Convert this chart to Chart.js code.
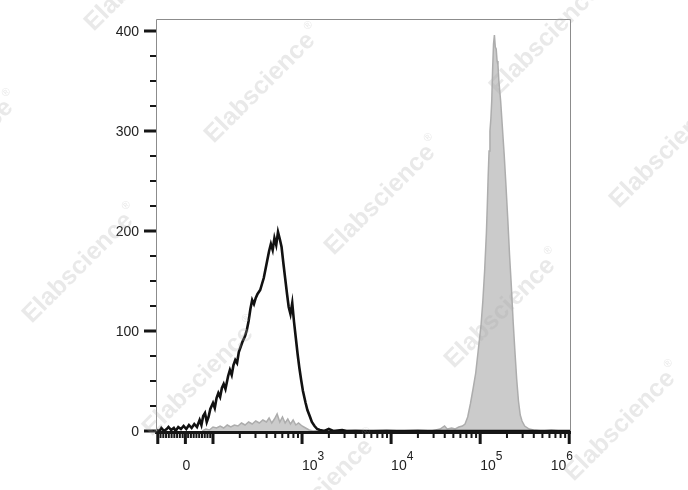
<!DOCTYPE html>
<html>
<head>
<meta charset="utf-8">
<script src="https://cdn.jsdelivr.net/npm/chart.js@4"></script>
<style>
  html, body { margin: 0; padding: 0; background: #fff; }
  #wrap { width: 688px; height: 490px; }
</style>
</head>
<body>
<div id="wrap"><canvas id="histo" width="688" height="490"></canvas></div>
<script>
// x positions are in display units (decades on the biexponential axis)
const isotypePos = [1.37, 1.40, 1.42, 1.45, 1.48, 1.50, 1.53, 1.56, 1.58, 1.61, 1.64, 1.67, 1.70, 1.73, 1.76, 1.79,
  1.82, 1.85, 1.87, 1.89, 1.91, 1.93, 1.95, 1.97, 2.00, 2.02, 2.04, 2.06, 2.08, 2.10, 2.12, 2.14, 2.17, 2.19, 2.21,
  2.23, 2.25, 2.27, 2.29, 2.31, 2.33, 2.36, 2.38, 2.40, 2.42, 2.44, 2.46, 2.48, 2.50, 2.53, 2.55, 2.57, 2.59, 2.61,
  2.63, 2.65, 2.67, 2.69, 2.71, 2.73, 2.75, 2.77, 2.79, 2.81, 2.83, 2.85, 2.87, 2.89, 2.91, 2.93, 2.95, 2.97, 2.99,
  3.01, 3.04, 3.06, 3.09, 3.11, 3.14, 3.17, 3.20, 3.25, 3.30, 3.35, 3.45, 3.50, 6.02];
const isotypeCounts = [1, 0, 3, 0, 2, 4, 1, 3, 0, 4, 2, 5, 2, 6, 3, 7,
  4, 11, 6, 15, 18, 9, 14, 22, 28, 23, 33, 38, 34, 43, 47, 42, 55, 61, 56,
  66, 71, 68, 79, 84, 89, 95, 101, 110, 122, 131, 127, 133, 137, 141, 147, 153, 162, 171,
  180, 187, 181, 193, 186, 199, 192, 184, 168, 153, 138, 124, 117, 128, 109, 93, 77, 63, 51,
  40, 28, 21, 14, 9, 5, 2, 1, 0, 2, 0, 1, 0, 0];

const stainedPos = [1.88, 1.92, 1.96, 2.00, 2.04, 2.08, 2.12, 2.16, 2.20, 2.24, 2.28, 2.32, 2.36, 2.40, 2.44, 2.48,
  2.52, 2.56, 2.60, 2.63, 2.66, 2.69, 2.72, 2.75, 2.78, 2.81, 2.84, 2.87, 2.90, 2.93, 2.96, 3.00, 3.04, 3.08, 3.12,
  3.30, 3.40, 3.60, 3.75, 3.95, 4.10, 4.30, 4.45, 4.55, 4.60, 4.63, 4.68, 4.72, 4.76, 4.80, 4.83, 4.86, 4.89, 4.92,
  4.95, 4.97, 4.99, 5.01, 5.03, 5.05, 5.07, 5.08, 5.09, 5.10, 5.11, 5.12, 5.13, 5.14, 5.15, 5.16, 5.17, 5.18, 5.19,
  5.20, 5.21, 5.23, 5.25, 5.27, 5.29, 5.31, 5.33, 5.35, 5.37, 5.39, 5.41, 5.43, 5.45, 5.47, 5.50, 5.55, 5.60, 5.70,
  5.80, 5.90, 6.02];
const stainedCounts = [0, 2, 1, 4, 3, 5, 3, 6, 4, 6, 5, 8, 6, 9, 7, 10,
  8, 11, 9, 13, 8, 12, 17, 9, 14, 8, 12, 7, 11, 6, 8, 5, 3, 1, 0,
  1, 0, 1, 0, 1, 0, 1, 0, 2, 5, 2, 3, 2, 4, 5, 7, 14, 27, 42,
  58, 74, 90, 106, 130, 160, 198, 225, 255, 280, 300, 312, 330, 362, 387, 396, 384, 382, 370,
  366, 350, 330, 303, 276, 245, 212, 176, 145, 110, 80, 52, 30, 16, 10, 5, 2, 1, 0,
  1, 0, 0];

const yTickValues = [0, 100, 200, 300, 400];
const xMajorValues = [-100, 0, 100, 1e3, 1e4, 1e5, 1e6];
const xLabelBase = ['', '0', '', '10', '10', '10', '10'];
const xLabelSup = ['', '', '', '3', '4', '5', '6'];
const xMinorValues = [-90, -80, -70, -60, -50, -40, -30, -20, -10, 10, 20, 30, 40, 50, 60, 70, 80, 90,
  200, 300, 400, 500, 600, 700, 800, 900, 2e3, 3e3, 4e3, 5e3, 6e3, 7e3, 8e3, 9e3,
  2e4, 3e4, 4e4, 5e4, 6e4, 7e4, 8e4, 9e4, 2e5, 3e5, 4e5, 5e5, 6e5, 7e5, 8e5, 9e5];

// biexponential-like display transform: linear around zero, log10 above 100
const ZERO_POS = 1.69;
function toDisplay(v) {
  if (v >= 100) return Math.log10(v);
  return ZERO_POS + v * (2 - ZERO_POS) / 100;
}

function toPoints(xs, ys) {
  return xs.map((x, i) => ({ x: x, y: ys[i] }));
}

const FONT = '"Liberation Sans", Arial, sans-serif';

const axesPlugin = {
  id: 'flowAxes',
  afterDraw(chart) {
    const ctx = chart.ctx;
    const xs = chart.scales.x;
    const ys = chart.scales.y;
    const a = chart.chartArea;
    ctx.save();

    // thin frame
    ctx.strokeStyle = '#8c8c8c';
    ctx.lineWidth = 1;
    ctx.beginPath();
    ctx.moveTo(a.left + 0.5, a.bottom);
    ctx.lineTo(a.left + 0.5, a.top + 0.5);
    ctx.lineTo(a.right - 0.5, a.top + 0.5);
    ctx.lineTo(a.right - 0.5, a.bottom);
    ctx.stroke();

    ctx.fillStyle = '#161616';
    // bottom axis line
    ctx.fillRect(a.left - 1, a.bottom, a.right - a.left + 1, 3);

    // y ticks: major every 100, minor every 25
    for (let v = 0; v <= 400; v += 25) {
      const y = ys.getPixelForValue(v);
      if (v % 100 === 0) ctx.fillRect(a.left - 12, y - 1.5, 12, 3);
      else ctx.fillRect(a.left - 6, y - 1, 6, 2);
    }
    ctx.font = '14px ' + FONT;
    ctx.fillStyle = '#222';
    ctx.textAlign = 'right';
    ctx.textBaseline = 'middle';
    yTickValues.forEach(v => {
      ctx.fillText(String(v), a.left - 17, ys.getPixelForValue(v) + 1);
    });

    // x ticks
    ctx.fillStyle = '#161616';
    xMinorValues.forEach(v => {
      const x = xs.getPixelForValue(toDisplay(v));
      ctx.fillRect(x - 1, a.bottom, 2, 7);
    });
    xMajorValues.forEach(v => {
      const x = xs.getPixelForValue(toDisplay(v));
      ctx.fillRect(x - 1.5, a.bottom, 3, 13);
    });

    // x labels with superscript exponents
    ctx.fillStyle = '#222';
    ctx.textBaseline = 'alphabetic';
    ctx.textAlign = 'left';
    xMajorValues.forEach((v, i) => {
      const base = xLabelBase[i];
      if (!base) return;
      const x = xs.getPixelForValue(toDisplay(v));
      ctx.font = '14px ' + FONT;
      const bw = ctx.measureText(base).width;
      const sup = xLabelSup[i];
      if (!sup) {
        ctx.fillText(base, x - bw / 2 + 1, 470);
        return;
      }
      ctx.font = '12px ' + FONT;
      const sw = ctx.measureText(sup).width;
      const start = Math.min(x, a.right + 2 - bw - sw);
      ctx.font = '14px ' + FONT;
      ctx.fillText(base, start, 470);
      ctx.font = '12px ' + FONT;
      ctx.fillText(sup, start + bw, 460);
    });
    ctx.restore();
  }
};

// faint diagonal watermark
const watermarkSpots = [[-42, 155], [78, 268], [198, 381], [318, 494],
  [140, -24], [260, 88], [380, 200], [500, 313], [620, 426],
  [545, 40], [665, 153]];
const watermarkPlugin = {
  id: 'watermark',
  afterDraw(chart) {
    const ctx = chart.ctx;
    ctx.save();
    ctx.fillStyle = 'rgba(170,170,170,0.26)';
    watermarkSpots.forEach(p => {
      ctx.save();
      ctx.translate(p[0], p[1]);
      ctx.rotate(-Math.PI / 4);
      ctx.font = 'bold 25px ' + FONT;
      ctx.textAlign = 'center';
      ctx.textBaseline = 'middle';
      const w = ctx.measureText('Elabscience').width;
      ctx.fillText('Elabscience', 0, 0);
      ctx.font = '11px ' + FONT;
      ctx.textAlign = 'left';
      ctx.fillText('\u00AE', w / 2 + 2, -10);
      ctx.restore();
    });
    ctx.restore();
  }
};

const ctx = document.getElementById('histo').getContext('2d');
new Chart(ctx, {
  type: 'line',
  data: {
    datasets: [{
      label: 'Isotype',
      data: toPoints(isotypePos, isotypeCounts),
      borderColor: '#111111',
      borderWidth: 2.6,
      fill: false,
      pointRadius: 0,
      tension: 0,
      order: 1
    }, {
      label: 'Stained',
      data: toPoints(stainedPos, stainedCounts),
      borderColor: '#adadad',
      backgroundColor: '#cbcbcb',
      borderWidth: 1.5,
      fill: 'origin',
      pointRadius: 0,
      tension: 0,
      order: 2
    }]
  },
  options: {
    responsive: false,
    animation: false,
    layout: { padding: { left: 156, top: 19, right: 117, bottom: 59 } },
    scales: {
      x: { type: 'linear', min: 1.36, max: 6.02, display: false },
      y: { min: 0, max: 412, display: false }
    },
    plugins: {
      legend: { display: false },
      tooltip: { enabled: false }
    }
  },
  plugins: [axesPlugin, watermarkPlugin]
});
</script>
</body>
</html>
